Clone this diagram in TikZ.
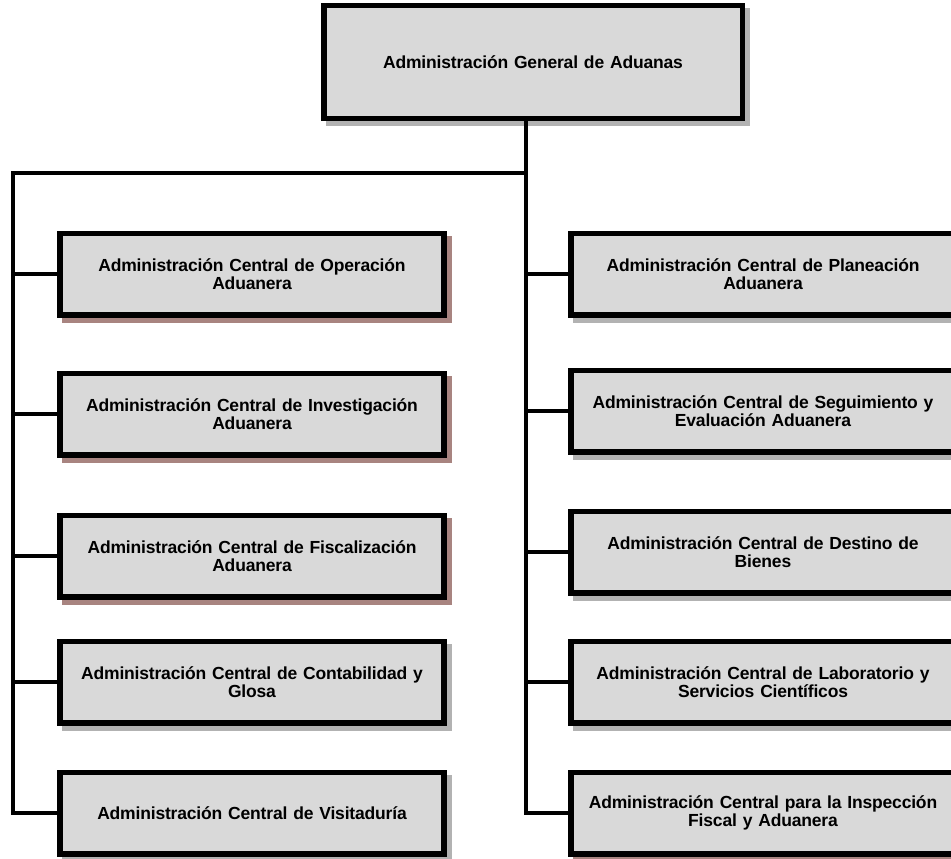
\documentclass[tikz,border=0pt]{standalone}
\usepackage{fontspec}
\setmainfont{Liberation Sans}[LetterSpace=-1.0, WordSpace=0.5]
\usetikzlibrary{shadows}
\definecolor{relleno}{HTML}{D9D9D9}
\definecolor{sombragris}{HTML}{B2B2B2}
\definecolor{sombracafe}{HTML}{A88480}
\tikzset{
    caja/.style={draw, line width=5.5pt, fill=relleno, minimum width=384pt, minimum height=81.5pt,
        inner sep=0pt, text width=370pt, align=center, font=\bfseries\fontsize{17.5}{18.5}\selectfont},
    sgris/.style={drop shadow={shadow xshift=5pt, shadow yshift=-5pt, opacity=1, fill=sombragris, draw=sombragris, line width=5.5pt}},
    scafe/.style={drop shadow={shadow xshift=5pt, shadow yshift=-5pt, opacity=1, fill=sombracafe, draw=sombracafe, line width=5.5pt}},
    conector/.style={line width=4pt}
}
\begin{document}
\begin{tikzpicture}[x=1pt, y=-1pt]
            \useasboundingbox (0,0) rectangle (951,859);
            \clip (0,0) rectangle (951,859);
            \coordinate (tronco) at (526,173);
            \coordinate (esquina) at (13,173);

            \node[caja, sgris, minimum width=418.5pt, minimum height=112.5pt, text width=400pt] (AGA) at (533,62) {Administración General de Aduanas};

            \node[caja, scafe] (ACOA) at (252,274) {Administración Central de Operación\\Aduanera};
            \node[caja, scafe] (ACIA) at (252,414) {Administración Central de Investigación\\Aduanera};
            \node[caja, scafe] (ACFA) at (252,556) {Administración Central de Fiscalización\\Aduanera};
            \node[caja, sgris] (ACCG) at (252,682) {Administración Central de Contabilidad y\\Glosa};
            \node[caja, sgris] (ACV) at (252,813) {Administración Central de Visitaduría};

            \node[caja, sgris] (ACPA) at (763,274) {Administración Central de Planeación\\Aduanera};
            \node[caja, sgris] (ACSEA) at (763,411) {Administración Central de Seguimiento y\\Evaluación Aduanera};
            \node[caja, sgris] (ACDB) at (763,552) {Administración Central de Destino de\\Bienes};
            \node[caja, sgris] (ACLSC) at (763,682) {Administración Central de Laboratorio y\\Servicios Científicos};
            \node[caja, scafe] (ACIFA) at (763,813) {Administración Central para la Inspección\\Fiscal y Aduanera};

            \draw[conector] (AGA.south -| tronco) |- (ACIFA.west);
            \draw[conector] (tronco) -- (esquina) |- (ACV.west);
            \draw[conector] (ACOA.west) -- (ACOA.west -| esquina);
            \draw[conector] (ACIA.west) -- (ACIA.west -| esquina);
            \draw[conector] (ACFA.west) -- (ACFA.west -| esquina);
            \draw[conector] (ACCG.west) -- (ACCG.west -| esquina);
            \draw[conector] (ACPA.west) -- (ACPA.west -| tronco);
            \draw[conector] (ACSEA.west) -- (ACSEA.west -| tronco);
            \draw[conector] (ACDB.west) -- (ACDB.west -| tronco);
            \draw[conector] (ACLSC.west) -- (ACLSC.west -| tronco);
        \end{tikzpicture}
\end{document}
